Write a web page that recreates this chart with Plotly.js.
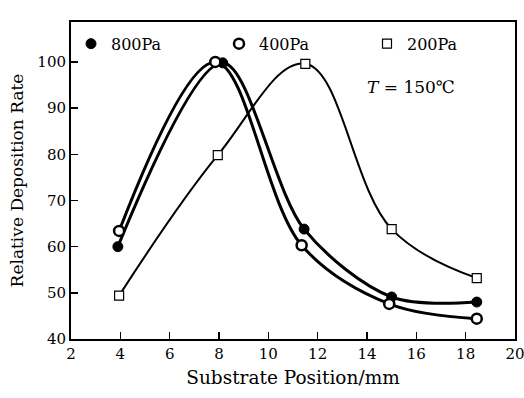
<!DOCTYPE html>
<html><head><meta charset="utf-8">
<script src="https://cdn.plot.ly/plotly-3.0.1.min.js"></script>
<style>html,body{margin:0;padding:0;background:#fff}#c{width:524px;height:398px}</style>
</head><body><div id="c"></div>
<script>
const x800 = [3.9, 8.15, 11.45, 15.0, 18.45];
const y800 = [60.0, 99.8, 63.8, 49.1, 48.0];
const x400 = [3.95, 7.85, 11.35, 14.9, 18.45];
const y400 = [63.4, 100.0, 60.3, 47.6, 44.4];
const x200 = [3.95, 7.95, 11.5, 15.0, 18.45];
const y200 = [49.4, 79.8, 99.6, 63.8, 53.2];
const xTicks = [2, 4, 6, 8, 10, 12, 14, 16, 18, 20];
const yTicks = [40, 50, 60, 70, 80, 90, 100];
const names = ['800Pa', '400Pa', '200Pa'];

const F = 'DejaVu Serif, Liberation Serif, serif';
const traces = [
  {x: x800, y: y800, mode: 'lines', line: {shape: 'spline', smoothing: 0.9, color: '#000', width: 3}, showlegend: false},
  {x: x400, y: y400, mode: 'lines', line: {shape: 'spline', smoothing: 1.0, color: '#000', width: 3}, showlegend: false},
  {x: x200, y: y200, mode: 'lines', line: {shape: 'spline', smoothing: 1.1, color: '#000', width: 2}, showlegend: false},
  {x: x800, y: y800, mode: 'markers', name: names[0], marker: {symbol: 'circle', size: 10, color: '#000', line: {color: '#000', width: 1}}},
  {x: x400, y: y400, mode: 'markers', name: names[1], marker: {symbol: 'circle', size: 10, color: '#fff', line: {color: '#000', width: 2.5}}},
  {x: x200, y: y200, mode: 'markers', name: names[2], marker: {symbol: 'square', size: 9, color: '#fff', line: {color: '#000', width: 1.2}}}
];
const layout = {
  width: 524, height: 398,
  margin: {l: 70.5, r: 9, t: 22, b: 58.5},
  paper_bgcolor: '#fff', plot_bgcolor: '#fff',
  font: {family: F, color: '#000', size: 15},
  showlegend: true,
  legend: {orientation: 'h', x: 0.0, y: 0.985, xanchor: 'left', yanchor: 'top',
           entrywidth: 103, entrywidthmode: 'pixels', itemwidth: 30,
           bgcolor: 'rgba(0,0,0,0)', font: {family: F, size: 16, color: '#000'}},
  xaxis: {range: [2, 20], tickvals: xTicks, ticktext: xTicks.map(String),
          showline: true, linecolor: '#000', linewidth: 2, mirror: true,
          ticks: 'inside', ticklen: 7, tickwidth: 1.5, tickcolor: '#000',
          showgrid: false, zeroline: false, ticklabeloverflow: 'allow',
          tickfont: {family: F, size: 15},
          title: {text: 'Substrate Position/mm', font: {family: F, size: 18.5}, standoff: 9}},
  yaxis: {range: [40, 108.65], tickvals: yTicks, ticktext: yTicks.map(String),
          showline: true, linecolor: '#000', linewidth: 2, mirror: true,
          ticks: 'inside', ticklen: 7, tickwidth: 1.5, tickcolor: '#000',
          showgrid: false, zeroline: false,
          tickfont: {family: F, size: 15},
          title: {text: 'Relative Deposition Rate', font: {family: F, size: 17}, standoff: 9}},
  annotations: [
    {xref: 'paper', yref: 'y', x: 0, y: 110, text: '110', showarrow: false, xanchor: 'right', xshift: -4, yanchor: 'middle', font: {family: F, size: 15}},
    {xref: 'x', yref: 'y', x: 15.8, y: 94.6, text: '<i>T</i> = 150℃', showarrow: false, xanchor: 'center', yanchor: 'middle', font: {family: F, size: 17}}
  ]
};
Plotly.newPlot('c', traces, layout, {displayModeBar: false, staticPlot: true});
</script></body></html>
